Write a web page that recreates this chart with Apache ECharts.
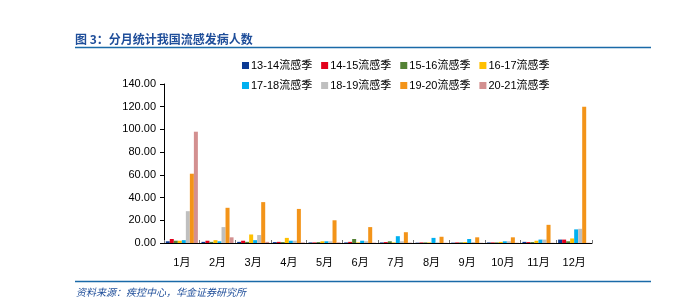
<!DOCTYPE html>
<html>
<head>
<meta charset="utf-8">
<script src="https://cdn.jsdelivr.net/npm/echarts@6/dist/echarts.min.js"></script>
<style>
  html, body { margin: 0; padding: 0; background: #fff; }
  #chart { width: 677px; height: 304px; }
</style>
</head>
<body>
<div id="chart"></div>
<script>
// 月份
const months = ['1月', '2月', '3月', '4月', '5月', '6月', '7月', '8月', '9月', '10月', '11月', '12月'];

// 各流感季发病人数（万人，读图估计）
const s1314 = [1.5, 1.0, 1.0, 0.8, 0.5, 0.5, 0.5, 0.3, 0.3, 0.5, 1.0, 3.0];
const s1415 = [3.5, 2.0, 2.0, 1.0, 0.5, 1.0, 0.8, 0.5, 0.5, 0.5, 0.8, 3.0];
const s1516 = [2.0, 1.0, 1.0, 0.8, 0.8, 3.5, 1.5, 0.5, 0.5, 0.5, 0.8, 1.5];
const s1617 = [2.0, 2.5, 7.5, 4.5, 1.5, 0.5, 0.5, 0.5, 0.8, 1.0, 2.0, 4.0];
const s1718 = [2.5, 1.5, 2.5, 2.0, 1.5, 2.0, 6.0, 4.5, 3.5, 1.5, 3.0, 12.0];
const s1819 = [28.0, 14.0, 7.0, 2.0, 1.5, 1.5, 1.5, 0.5, 0.8, 1.5, 3.0, 12.5];
const s1920 = [61.0, 31.0, 36.0, 30.0, 20.0, 14.0, 9.5, 5.5, 5.0, 5.0, 16.0, 120.0];
const s2021 = [98.0, 5.0, 1.0, 0.5, 0.5, 0.3, 0.3, 0.2, 0.2, 0.2, 0.2, 0.2];

const seriesNames = ['13-14流感季', '14-15流感季', '15-16流感季', '16-17流感季',
  '17-18流感季', '18-19流感季', '19-20流感季', '20-21流感季'];
const seriesData = [s1314, s1415, s1516, s1617, s1718, s1819, s1920, s2021];
const colors = ['#0b3a94', '#e3001b', '#548235', '#ffc000', '#00b0f0', '#bfbfbf', '#f39419', '#d39090'];

const yTicks = [0, 20, 40, 60, 80, 100, 120, 140];

const chart = echarts.init(document.getElementById('chart'), null, { renderer: 'canvas' });

const option = {
  animation: false,
  color: colors,
  textStyle: { fontFamily: 'Liberation Sans, Arial, "Noto Sans CJK SC", sans-serif' },
  legend: {
    data: seriesNames,
    left: 237,
    top: 55,
    width: 340,
    itemWidth: 7,
    itemHeight: 7,
    itemGap: 9,
    icon: 'rect',
    textStyle: { fontSize: 11, color: '#000', padding: [0, 0, 0, -3], width: 64 },
    formatter: function (name) { return name; }
  },
  grid: {
    left: 164,
    right: 85,
    top: 84,
    bottom: 61
  },
  xAxis: {
    type: 'category',
    data: months,
    axisLine: { lineStyle: { color: '#000', width: 1 } },
    axisTick: { show: true, inside: true, length: 3, lineStyle: { color: '#777' } },
    axisLabel: { color: '#000', fontSize: 11, margin: 14 }
  },
  yAxis: {
    type: 'value',
    min: 0,
    max: 140,
    interval: 20,
    axisLine: { show: true, lineStyle: { color: '#000', width: 1 } },
    axisTick: { show: true, length: 4, lineStyle: { color: '#000' } },
    splitLine: { show: false },
    axisLabel: {
      color: '#000',
      fontSize: 11,
      margin: 8,
      formatter: function (v) { return yTicks.indexOf(v) >= 0 ? v.toFixed(2) : ''; }
    }
  },
  series: seriesData.map(function (d, i) {
    return {
      name: seriesNames[i],
      type: 'bar',
      data: d,
      barGap: '0%',
      barCategoryGap: '10%'
    };
  }),
  graphic: [
    {
      type: 'text',
      left: 75,
      top: 33,
      style: {
        text: '图 3：分月统计我国流感发病人数',
        fill: '#1f4e9a',
        font: 'bold 12px "Noto Sans CJK SC", sans-serif'
      }
    },
    {
      type: 'line',
      shape: { x1: 75, y1: 47.5, x2: 651, y2: 47.5 },
      style: { stroke: '#1a6aa8', lineWidth: 1.5 }
    },
    {
      type: 'line',
      shape: { x1: 75, y1: 281.5, x2: 651, y2: 281.5 },
      style: { stroke: '#1a6aa8', lineWidth: 1.5 }
    },
    {
      type: 'text',
      left: 76,
      top: 287,
      style: {
        text: '资料来源：疾控中心，华金证券研究所',
        fill: '#1f4e9a',
        font: 'italic 10px "Noto Sans CJK SC", sans-serif'
      }
    }
  ]
};

chart.setOption(option);
</script>
</body>
</html>
